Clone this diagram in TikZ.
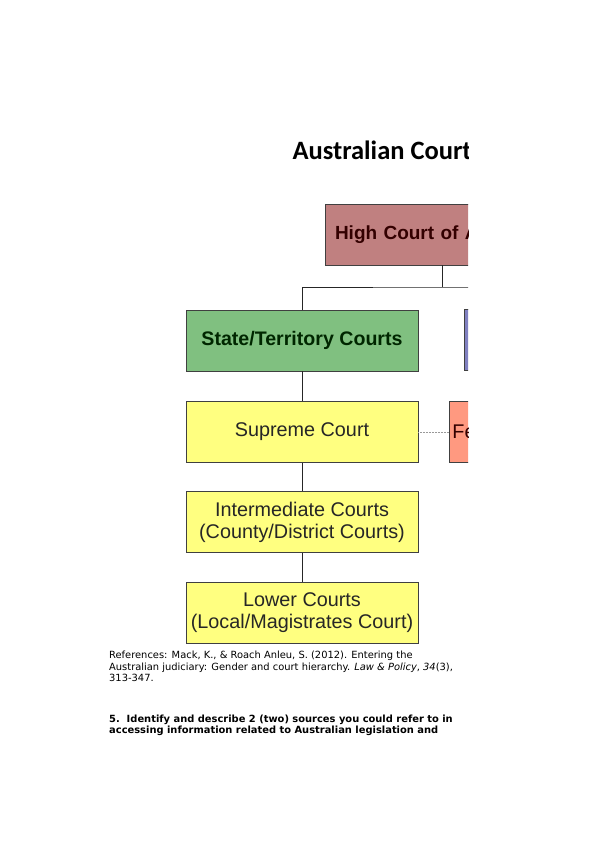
\documentclass[tikz,border=0pt]{standalone}
\usepackage{fontspec}
\setmainfont{DejaVu Sans}
\newfontfamily\titlefont{Carlito}
\newfontfamily\chartfont{Liberation Sans}
\usepackage{tikz}
\usetikzlibrary{positioning,calc}
\definecolor{highc}{HTML}{C08080}
\definecolor{statec}{HTML}{80C080}
\definecolor{fedc}{HTML}{8080C0}
\definecolor{courtc}{HTML}{FFFF80}
\definecolor{fedcourtc}{HTML}{FF9980}
\tikzset{
  box/.style={draw=black!75,line width=0.9pt,minimum width=232pt,minimum height=61pt,align=center,inner sep=0pt,font=\chartfont\fontsize{19.8}{22}\selectfont},
  conn/.style={draw=black!85,line width=0.9pt},
  dotline/.style={draw=black!40,line width=0.5pt,densely dotted},
}

\begin{document}
\begin{tikzpicture}[x=1pt,y=-1pt]
\useasboundingbox (0,0) rectangle (596,842);
\fill[white] (0,0) rectangle (596,842);
\begin{scope}
\clip (0,0) rectangle (468,842);
\node[font=\titlefont\bfseries\fontsize{26.5}{30}\selectfont,anchor=base west] (title) at (289,160) {Australian Court};
\node[box,fill=highc,text=black!80!red,font=\chartfont\bfseries\fontsize{19}{22}\selectfont,minimum width=234pt,text width=214pt,inner xsep=10pt,align=left] (high) at (442,234.5) {High Court of A};
\node[box,fill=statec,text=black!85!green,font=\chartfont\bfseries\fontsize{19.6}{22}\selectfont] (state) at (302,340.5) {State/Territory Courts};
\node[box,fill=fedc,minimum width=236pt,anchor=west] (fed) at (464,339.5) {};
\node[box,fill=courtc,text=black!85] (supreme) at (302,432) {Supreme Court};
\node[box,fill=fedcourtc,text=black!80!red,minimum width=0pt,text width=200pt,inner xsep=3pt,align=left,anchor=west] (fedcourt) at (449,432) {Fe};
\node[box,fill=courtc,text=black!85] (inter) at (302,522) {Intermediate Courts\\(County/District Courts)};
\node[box,fill=courtc,text=black!85] (lower) at (302,613) {Lower Courts\\(Local/Magistrates Court)};
\coordinate (split) at (442,287);
\draw[conn] (high.south) -- (split);
\draw[conn] (state.north) |- (split) -| (fed.north);
\draw[conn] (state) -- (supreme);
\draw[conn] (supreme) -- (inter);
\draw[conn] (inter) -- (lower);
\draw[dotline] (supreme.east) -- (fedcourt.west);
\end{scope}
\node[anchor=north west,align=left,inner sep=0pt,font=\fontsize{9.9}{11.8}\selectfont] (ref) at (109,650.5) {References: Mack, K., \& Roach Anleu, S. (2012). Entering the\\Australian judiciary: Gender and court hierarchy. \textit{Law \& Policy}, \textit{34}(3),\\313-347.};
\node[anchor=north west,align=left,inner sep=0pt,font=\bfseries\fontsize{9.9}{11.2}\selectfont] (question) at (109,715) {5.\ \ Identify and describe 2 (two) sources you could refer to in\\accessing information related to Australian legislation and};
\end{tikzpicture}
\end{document}
